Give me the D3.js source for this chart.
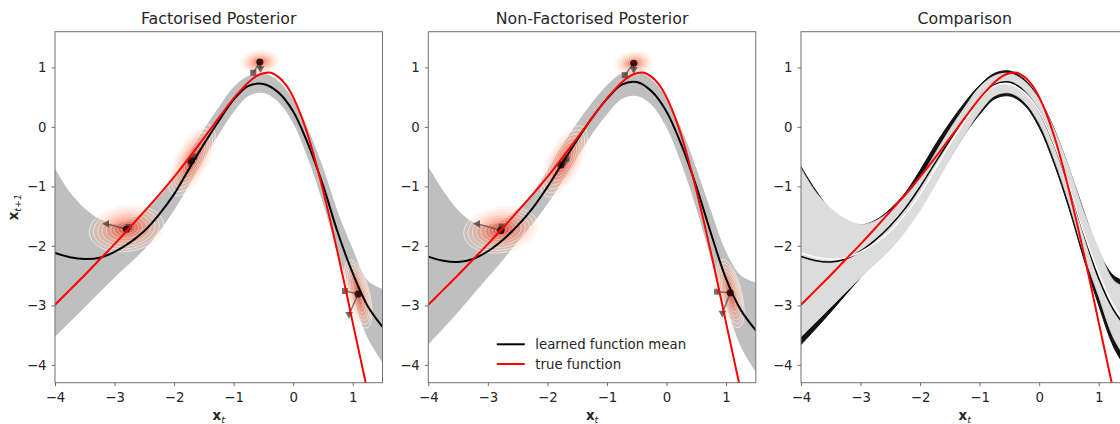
<!DOCTYPE html>
<html><head><meta charset="utf-8">
<script src="https://cdn.jsdelivr.net/npm/d3@7"></script>
<style>
body{margin:0;background:#fff;}
svg{display:block;}
text{font-family:"DejaVu Sans",sans-serif;fill:#262626;}
</style>
</head><body>
<svg id="c" width="1120" height="424"></svg>
<script>
// ---------------- data ----------------
const titles = ["Factorised Posterior", "Non-Factorised Posterior", "Comparison"];
const xTicks = [-4, -3, -2, -1, 0, 1];
const yTicks = [-4, -3, -2, -1, 0, 1];
const legendLabels = ["learned function mean", "true function"];

// evaluation grid for learned function
const xGrid = [-4, -3.75, -3.5, -3.25, -3, -2.75, -2.5, -2.25, -2, -1.75, -1.5, -1.25, -1, -0.75, -0.5, -0.25, 0, 0.25, 0.5, 0.75, 1, 1.25, 1.5];

// factorised posterior: mean and band
const factMean = [-2.12, -2.19, -2.22, -2.20, -2.10, -1.95, -1.75, -1.47, -1.13, -0.71, -0.29, 0.10, 0.46, 0.69, 0.72, 0.58, 0.26, -0.29, -0.98, -1.78, -2.46, -3.01, -3.36];
const factLo   = [-3.53, -3.28, -3.03, -2.78, -2.53, -2.30, -2.06, -1.76, -1.40, -0.98, -0.54, -0.13, 0.25, 0.52, 0.57, 0.42, 0.06, -0.54, -1.28, -2.13, -2.85, -3.55, -3.96];
const factHi   = [-0.70, -1.10, -1.37, -1.55, -1.64, -1.58, -1.41, -1.17, -0.86, -0.45, -0.04, 0.33, 0.67, 0.86, 0.90, 0.77, 0.46, -0.04, -0.68, -1.43, -2.05, -2.58, -2.72];

// non-factorised posterior: mean and band
const nonfMean = [-2.18, -2.25, -2.27, -2.22, -2.09, -1.90, -1.66, -1.37, -1.01, -0.61, -0.22, 0.15, 0.47, 0.71, 0.755, 0.60, 0.26, -0.30, -1.00, -1.80, -2.55, -3.08, -3.42];
const nonfLo   = [-3.66, -3.39, -3.11, -2.82, -2.53, -2.24, -1.93, -1.63, -1.30, -0.92, -0.52, -0.12, 0.21, 0.47, 0.52, 0.37, -0.01, -0.62, -1.37, -2.22, -3.00, -3.70, -4.12];
const nonfHi   = [-0.67, -1.07, -1.40, -1.60, -1.65, -1.57, -1.38, -1.11, -0.73, -0.31, 0.07, 0.41, 0.70, 0.90, 0.94, 0.80, 0.48, -0.03, -0.69, -1.42, -2.10, -2.50, -2.62];

// true function samples
const trueX = [-4, -3.75, -3.5, -3.25, -3, -2.75, -2.5, -2.25, -2, -1.75, -1.5, -1.25, -1, -0.875, -0.75, -0.625, -0.5, -0.375, -0.25, -0.125, 0, 0.125, 0.25, 0.375, 0.5, 0.625, 0.75, 0.875, 1, 1.125, 1.25];
const trueY = [-2.99, -2.74, -2.49, -2.23, -1.97, -1.70, -1.42, -1.14, -0.84, -0.52, -0.19, 0.15, 0.48, 0.62, 0.75, 0.85, 0.90, 0.91, 0.84, 0.71, 0.50, 0.21, -0.15, -0.58, -1.06, -1.58, -2.13, -2.70, -3.29, -3.87, -4.45];

// latent-state posteriors (centre, spread, correlation)
const factBlobs = [
  {x: -0.56, y: 1.09, sx: 0.12, sy: 0.075, rho: 0.1},
  {x: -1.70, y: -0.56, sx: 0.15, sy: 0.23, rho: 0.65},
  {x: -2.80, y: -1.71, sx: 0.24, sy: 0.15, rho: 0.15},
  {x: 1.09, y: -2.81, sx: 0.09, sy: 0.22, rho: -0.55}
];
const nonfBlobs = [
  {x: -0.55, y: 1.07, sx: 0.12, sy: 0.075, rho: 0.1},
  {x: -1.72, y: -0.58, sx: 0.15, sy: 0.23, rho: 0.65},
  {x: -2.78, y: -1.73, sx: 0.24, sy: 0.15, rho: 0.15},
  {x: 1.07, y: -2.80, sx: 0.09, sy: 0.22, rho: -0.55}
];
// state markers: circle, square, triangle (+ direction)
const factMarks = [
  {cx: -0.56, cy: 1.09, qx: -0.67, qy: 0.91, tx: -0.55, ty: 0.98, dir: "down"},
  {cx: -1.71, cy: -0.57, qx: -1.66, qy: -0.50, tx: -1.73, ty: -0.62, dir: "down"},
  {cx: -2.80, cy: -1.72, qx: -2.76, qy: -1.68, tx: -3.13, ty: -1.63, dir: "left"},
  {cx: 1.09, cy: -2.81, qx: 0.87, qy: -2.76, tx: 0.94, ty: -3.15, dir: "down"}
];
const nonfMarks = [
  {cx: -0.55, cy: 1.07, qx: -0.70, qy: 0.87, tx: -0.55, ty: 0.97, dir: "down"},
  {cx: -1.77, cy: -0.64, qx: -1.68, qy: -0.53, tx: -1.70, ty: -0.58, dir: "down"},
  {cx: -2.78, cy: -1.74, qx: -2.77, qy: -1.68, tx: -3.17, ty: -1.63, dir: "left"},
  {cx: 1.07, cy: -2.79, qx: 0.85, qy: -2.77, tx: 0.94, ty: -3.13, dir: "down"}
];
const ringLevels = [2.6, 2.3, 2.0, 1.7, 1.4, 1.1, 0.85, 0.6, 0.38, 0.2];

// ---------------- layout ----------------
const svg = d3.select("#c");
const panelLeft = [55, 428.3, 801];
const panelW = 327.5, plotTop = 31.7, plotBottom = 382.7;
const y = d3.scaleLinear().domain([-4.3, 1.6]).range([plotBottom, plotTop]);
const fmt = d => (d < 0 ? "\u2212" + Math.abs(d) : String(d));
const spine = "#707070";

function bandArea(x, lo, hi) {
  return d3.area().x((d, i) => x(xGrid[i])).y0((d, i) => y(lo[i])).y1((d, i) => y(hi[i]))
    .curve(d3.curveCatmullRom.alpha(0.5))(xGrid);
}
function meanLine(x, m) {
  return d3.line().x((d, i) => x(xGrid[i])).y((d, i) => y(m[i])).curve(d3.curveCatmullRom.alpha(0.5))(xGrid);
}
function trueLine(x) {
  return d3.line().x((d, i) => x(trueX[i])).y((d, i) => y(trueY[i])).curve(d3.curveCatmullRom.alpha(0.5))(trueX);
}

function drawBlobs(g, x, blobs, marks) {
  blobs.forEach(b => {
    ringLevels.forEach((r, k) => {
      const pts = d3.range(0, 72).map(j => {
        const t = j / 72 * 2 * Math.PI, u = Math.cos(t), v = Math.sin(t);
        return [x(b.x + b.sx * r * u), y(b.y + b.sy * r * (b.rho * u + Math.sqrt(1 - b.rho * b.rho) * v))];
      });
      const f = k / (ringLevels.length - 1);
      g.append("path").attr("d", d3.line().curve(d3.curveLinearClosed)(pts))
        .attr("fill", d3.interpolateReds(0.2 + 0.8 * f)).attr("fill-opacity", 0.14 + 0.06 * f)
        .attr("stroke", d3.interpolateReds(0.02 + 0.3 * f)).attr("stroke-opacity", 0.85).attr("stroke-width", 0.9);
    });
  });
  marks.forEach(m => {
    [[m.qx, m.qy], [m.tx, m.ty]].forEach(p => {
      g.append("line").attr("x1", x(m.cx)).attr("y1", y(m.cy)).attr("x2", x(p[0])).attr("y2", y(p[1]))
        .attr("stroke", "#3a3a3a").attr("stroke-opacity", 0.65).attr("stroke-width", 1.5);
    });
    g.append("rect").attr("x", x(m.qx) - 3).attr("y", y(m.qy) - 3).attr("width", 6).attr("height", 6)
      .attr("fill", "#4a3a3a").attr("fill-opacity", 0.75);
    g.append("path").attr("d", d3.symbol().type(d3.symbolTriangle).size(26)())
      .attr("transform", `translate(${x(m.tx)},${y(m.ty)}) rotate(${m.dir === "left" ? -90 : 180})`)
      .attr("fill", "#3a3a3a").attr("fill-opacity", 0.75);
    g.append("circle").attr("cx", x(m.cx)).attr("cy", y(m.cy)).attr("r", 3.6)
      .attr("fill", "#220000").attr("fill-opacity", 0.85);
  });
}

panelLeft.forEach((L, p) => {
  const x = d3.scaleLinear().domain([-4, 1.5]).range([L, L + panelW]);
  const g = svg.append("g");
  const clipId = "clip" + p;
  svg.append("clipPath").attr("id", clipId).append("rect")
    .attr("x", L).attr("y", plotTop).attr("width", panelW).attr("height", plotBottom - plotTop);
  const c = g.append("g").attr("clip-path", `url(#${clipId})`);

  if (p < 2) {
    const mean = p === 0 ? factMean : nonfMean;
    const lo = p === 0 ? factLo : nonfLo;
    const hi = p === 0 ? factHi : nonfHi;
    c.append("path").attr("d", bandArea(x, lo, hi)).attr("fill", "#bfbfbf");
    drawBlobs(c, x, p === 0 ? factBlobs : nonfBlobs, p === 0 ? factMarks : nonfMarks);
    c.append("path").attr("d", meanLine(x, mean)).attr("fill", "none").attr("stroke", "#000").attr("stroke-width", 2);
    c.append("path").attr("d", trueLine(x)).attr("fill", "none").attr("stroke", "#ff0000").attr("stroke-width", 2);
  } else {
    c.append("path").attr("d", bandArea(x, nonfLo, nonfHi)).attr("fill", "#111").attr("stroke", "#111").attr("stroke-width", 1);
    c.append("path").attr("d", bandArea(x, factLo, factHi)).attr("fill", "#dcdcdc").attr("stroke", "#dcdcdc").attr("stroke-width", 0.8);
    c.append("path").attr("d", meanLine(x, nonfMean)).attr("fill", "none").attr("stroke", "#000").attr("stroke-width", 1.5);
    c.append("path").attr("d", meanLine(x, factMean)).attr("fill", "none").attr("stroke", "#fff").attr("stroke-width", 1.5);
    c.append("path").attr("d", trueLine(x)).attr("fill", "none").attr("stroke", "#ff0000").attr("stroke-width", 2);
  }

  // axes
  const ax = g.append("g").attr("transform", `translate(0,${plotBottom})`)
    .call(d3.axisBottom(x).tickValues(xTicks).tickFormat(fmt).tickSize(3.5).tickPadding(6));
  const ay = g.append("g").attr("transform", `translate(${L},0)`)
    .call(d3.axisLeft(y).tickValues(yTicks).tickFormat(fmt).tickSize(3.5).tickPadding(5));
  [ax, ay].forEach(a => {
    a.select(".domain").remove();
    a.selectAll(".tick line").attr("stroke", spine);
    a.selectAll(".tick text").attr("font-size", 13.3).attr("font-family", "DejaVu Sans").attr("fill", "#262626");
  });
  g.append("rect").attr("x", L).attr("y", plotTop).attr("width", panelW).attr("height", plotBottom - plotTop)
    .attr("fill", "none").attr("stroke", spine).attr("stroke-width", 1);

  // title
  g.append("text").attr("x", L + panelW / 2).attr("y", 24).attr("text-anchor", "middle")
    .attr("font-size", 15.8).text(titles[p]);
  // x label
  const xl = g.append("text").attr("x", L + panelW / 2).attr("y", 419.5).attr("text-anchor", "middle")
    .attr("font-size", 13.3);
  xl.append("tspan").attr("font-weight", "bold").text("x");
  xl.append("tspan").attr("font-size", 9.5).attr("dy", 3).attr("font-style", "italic").text("t");

  if (p === 0) {
    const yl = g.append("text").attr("transform", `translate(18,${(plotTop + plotBottom) / 2}) rotate(-90)`)
      .attr("text-anchor", "middle").attr("font-size", 13.3);
    yl.append("tspan").attr("font-weight", "bold").text("x");
    yl.append("tspan").attr("font-size", 9.5).attr("dy", 3).attr("font-style", "italic").text("t+1");
  }
  if (p === 1) {
    const lg = g.append("g");
    const colors = ["#000", "#ff0000"];
    legendLabels.forEach((t, i) => {
      const ly = 344.3 + i * 19.7;
      lg.append("line").attr("x1", L + 68.5).attr("x2", L + 96.5).attr("y1", ly).attr("y2", ly)
        .attr("stroke", colors[i]).attr("stroke-width", 2);
      lg.append("text").attr("x", L + 107).attr("y", ly + 4.7).attr("font-size", 13.3).text(t);
    });
  }
});
</script>
</body></html>
